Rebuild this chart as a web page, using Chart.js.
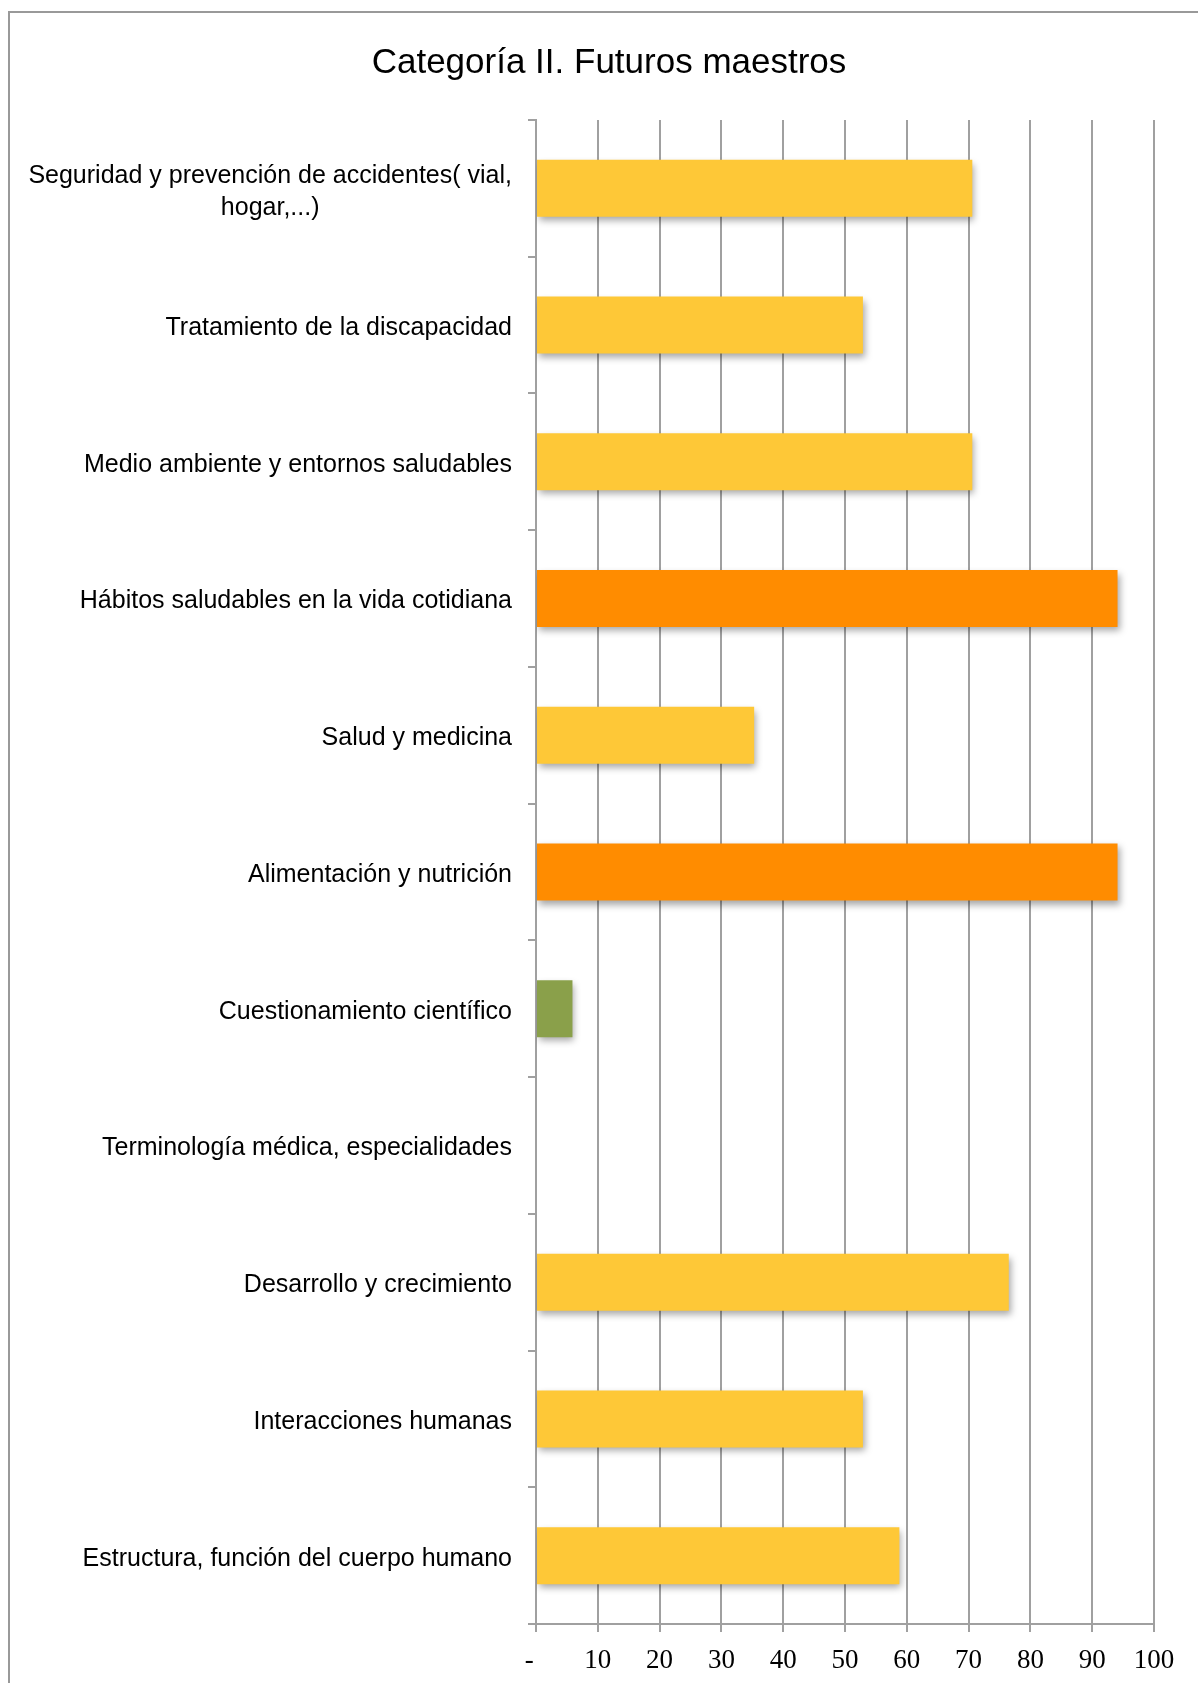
<!DOCTYPE html>
<html lang="es">
<head>
<meta charset="UTF-8">
<title>Categoría II. Futuros maestros</title>
<script src="https://cdn.jsdelivr.net/npm/chart.js"></script>
<style>
    body { margin: 0; background: #fff; }
    #wrap { width: 1198px; height: 1683px; }
</style>
</head>
<body>
<div id="wrap"><canvas id="chart" width="1198" height="1683"></canvas></div>
<script>
// Topics and share of future teachers (%) that mention each one
const categories = [
    ['Seguridad y prevención de accidentes( vial,', 'hogar,...)'],
    'Tratamiento de la discapacidad',
    'Medio ambiente y entornos saludables',
    'Hábitos saludables en la vida cotidiana',
    'Salud y medicina',
    'Alimentación y nutrición',
    'Cuestionamiento científico',
    'Terminología médica, especialidades',
    'Desarrollo y crecimiento',
    'Interacciones humanas',
    'Estructura, función del cuerpo humano'
];
const values = [70.6, 52.9, 70.6, 94.1, 35.3, 94.1, 5.9, 0, 76.5, 52.9, 58.8];
const xTickLabels = ['-  ', '10', '20', '30', '40', '50', '60', '70', '80', '90', '100'];

const titleText = 'Categoría II. Futuros maestros';
const labelFont = { family: "'Liberation Sans', Arial, sans-serif", size: 25 };
const gridColor = '#a0a0a0';

// orange for the most cited topics, green for the rare ones
function barColor(v) {
    if (v >= 90) return '#ff8c00';
    if (v < 10) return '#8aa04a';
    return '#fec837';
}

const ctx = document.getElementById('chart').getContext('2d');

new Chart(ctx, {
    type: 'bar',
    data: {
        labels: categories,
        datasets: [{
            data: values,
            backgroundColor: (c) => barColor(c.raw),
            borderWidth: 0,
            barPercentage: 0.417,
            categoryPercentage: 1
        }]
    },
    options: {
        indexAxis: 'y',
        responsive: false,
        animation: false,
        layout: { padding: { top: 120, right: 44, left: 10, bottom: 0 } },
        plugins: {
            legend: { display: false },
            title: { display: false },
            tooltip: { enabled: false }
        },
        scales: {
            y: {
                offset: true,
                grid: { offset: true, drawOnChartArea: false, tickLength: 8, color: gridColor, lineWidth: 2 },
                border: { color: gridColor, width: 2 },
                ticks: {
                    font: labelFont,
                    padding: 16,
                    labelOffset: 3,
                    autoSkip: false,
                    // wrapped label is drawn centred by the plugin below
                    color: (c) => Array.isArray(categories[c.index]) ? 'rgba(0,0,0,0)' : '#000'
                },
                afterFit: (s) => { s.width = 526; }
            },
            x: {
                min: 0,
                max: 100,
                grid: { color: gridColor, lineWidth: 2, tickLength: 8 },
                border: { color: gridColor, width: 2 },
                ticks: {
                    stepSize: 10,
                    autoSkip: false,
                    maxRotation: 0,
                    padding: 13,
                    color: '#000',
                    font: { family: "'Liberation Serif', 'DejaVu Serif', serif", size: 27 },
                    callback: (v, i) => xTickLabels[i]
                },
                afterFit: (s) => { s.height = 59; }
            }
        }
    },
    plugins: [{
        id: 'frameAndText',
        beforeDraw: (chart) => {
            const c = chart.ctx;
            c.save();
            c.fillStyle = '#fff';
            c.fillRect(0, 0, chart.width, chart.height);
            // outer frame, cut off on the right and bottom
            c.strokeStyle = '#999';
            c.lineWidth = 2;
            c.beginPath();
            c.moveTo(9, chart.height);
            c.lineTo(9, 12);
            c.lineTo(chart.width, 12);
            c.stroke();
            c.restore();
        },
        beforeDatasetsDraw: (chart) => {
            const c = chart.ctx;
            c.save();
            c.shadowColor = 'rgba(0,0,0,0.35)';
            c.shadowBlur = 7;
            c.shadowOffsetX = 2;
            c.shadowOffsetY = 4;
        },
        afterDatasetsDraw: (chart) => {
            chart.ctx.restore();
        },
        afterDraw: (chart) => {
            const c = chart.ctx;
            const y = chart.scales.y;
            c.save();
            c.fillStyle = '#000';
            c.textBaseline = 'middle';
            c.textAlign = 'center';
            c.font = "35px 'Liberation Sans', Arial, sans-serif";
            c.fillText(titleText, 609, 63);

            c.font = labelFont.size + 'px ' + labelFont.family;
            const right = y.right - 8 - 16;
            categories.forEach((lab, i) => {
                if (!Array.isArray(lab)) return;
                const w = Math.max(...lab.map(t => c.measureText(t).width));
                const cx = right - w / 2;
                const cy = y.getPixelForValue(i) + 4;
                const lh = 32;
                lab.forEach((t, k) => {
                    c.fillText(t, cx, cy + (k - (lab.length - 1) / 2) * lh);
                });
            });
            c.restore();
        }
    }]
});
</script>
</body>
</html>
